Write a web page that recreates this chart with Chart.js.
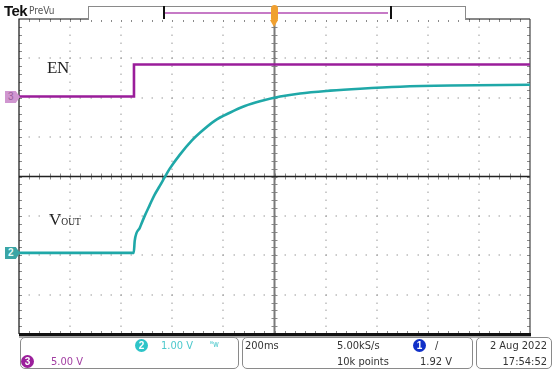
<!DOCTYPE html>
<html>
<head>
<meta charset="utf-8">
<script src="https://cdn.jsdelivr.net/npm/chart.js@4/dist/chart.umd.min.js"></script>
<style>
  html,body{margin:0;padding:0;background:#fff;}
  #wrap{position:relative;width:554px;height:375px;overflow:hidden;background:#fff;font-family:"Liberation Sans Narrow","DejaVu Sans Condensed","Liberation Sans",sans-serif;}
  #c{position:absolute;left:0;top:0;}
  .abs{position:absolute;white-space:nowrap;}
  .box{position:absolute;border:1px solid #8a8a8a;border-radius:5px;background:#fff;}
  .t{position:absolute;font-size:11px;line-height:13px;color:#333;font-stretch:condensed;white-space:nowrap;}
  .circ{position:absolute;width:13px;height:13px;border-radius:50%;color:#fff;font-size:10px;line-height:13px;text-align:center;font-family:"Liberation Sans",sans-serif;font-weight:bold;}
  .mk{position:absolute;width:15px;height:12px;font-size:10px;line-height:12px;text-indent:3px;font-family:"Liberation Sans",sans-serif;clip-path:polygon(0 0,72% 0,100% 50%,72% 100%,0 100%);}
</style>
</head>
<body>
<div id="wrap">
  <canvas id="c" width="554" height="375"></canvas>

  <!-- top bar -->
  <div class="abs" style="left:4px;top:2px;font-family:'Liberation Sans',sans-serif;font-weight:bold;font-size:15px;line-height:17px;color:#111;letter-spacing:-0.6px;">Tek</div>
  <div class="abs" style="left:29px;top:5px;font-size:10px;line-height:12px;color:#555;font-stretch:condensed;">PreVu</div>
  <div class="abs" style="left:88px;top:6px;width:376px;height:13px;border:1px solid #8a8a8a;border-bottom:none;background:#fff;"></div>
  <div class="abs" style="left:163px;top:6px;width:225px;height:13px;border-left:2px solid #111;border-right:2px solid #111;"></div>
  <div class="abs" style="left:165px;top:12px;width:223px;height:2px;background:#c67ac6;"></div>
  <div class="abs" style="left:271px;top:5px;width:7px;height:17px;border-radius:4px;background:#f0a030;"></div>
  <div class="abs" style="left:270px;top:20px;width:0;height:0;border-left:4.5px solid transparent;border-right:4.5px solid transparent;border-top:7px solid #f0a030;"></div>

  <!-- channel markers -->
  <div class="mk" style="left:5px;top:91px;background:#d096d0;color:#9a609a;">3</div>
  <div class="mk" style="left:5px;top:247px;background:#3aa5a5;color:#e8ffff;font-weight:bold;">2</div>

  <!-- annotations -->
  <div class="abs" style="left:47px;top:58px;font-family:'Liberation Serif',serif;font-size:17px;line-height:20px;color:#222;letter-spacing:-0.5px;">EN</div>
  <div class="abs" style="left:49px;top:210px;font-family:'Liberation Serif',serif;font-size:17px;line-height:20px;color:#222;">V<span style="font-size:9.5px;">OUT</span></div>

  <!-- bottom status boxes -->
  <div class="box" style="left:20px;top:337px;width:217px;height:30px;"></div>
  <div class="box" style="left:242px;top:337px;width:229px;height:30px;"></div>
  <div class="box" style="left:476px;top:337px;width:74px;height:30px;"></div>

  <div class="circ" style="left:135px;top:339px;background:#2ec4c8;">2</div>
  <div class="t" style="left:161px;top:339px;color:#4cc8cc;">1.00 V</div>
  <div class="t" style="left:210px;top:338px;color:#4cc8cc;font-size:8px;">ᴮw</div>
  <div class="circ" style="left:21px;top:355px;background:#9b1f9b;">3</div>
  <div class="t" style="left:51px;top:355px;color:#a23ea2;">5.00 V</div>

  <div class="t" style="left:245px;top:339px;">200ms</div>
  <div class="t" style="left:337px;top:339px;">5.00kS/s</div>
  <div class="t" style="left:337px;top:355px;">10k points</div>
  <div class="circ" style="left:413px;top:339px;background:#1030c8;">1</div>
  <div class="t" style="left:435px;top:339px;">/</div>
  <div class="t" style="left:420px;top:355px;">1.92 V</div>

  <div class="t" style="left:480px;top:339px;width:67px;text-align:right;">2 Aug 2022</div>
  <div class="t" style="left:480px;top:355px;width:67px;text-align:right;">17:54:52</div>
</div>

<script>
// ---- data (time in ms, relative to trigger) ----
const enTimeMs   = [-1000, -550, -550, 1000];
const enVolts    = [0, 0, 4.07, 4.07];

const voutTimeMs = [-1000, -551, -547, -527, -508, -488, -469, -449, -429, -410, -371, -324, -292, -233, -175, -116, -57, 22, 100, 218, 335, 492, 688, 1000];
const voutVolts  = [0, 0, 0.31, 0.64, 0.94, 1.22, 1.48, 1.70, 1.93, 2.14, 2.49, 2.85, 3.05, 3.36, 3.56, 3.73, 3.85, 3.97, 4.05, 4.12, 4.17, 4.22, 4.25, 4.27];

// scope settings
const timePerDiv  = 200;   // ms/div
const ch2VoltsDiv = 1.0;   // V/div
const ch3VoltsDiv = 5.0;   // V/div
const ch2Pos      = -1.94; // div (ground marker position)
const ch3Pos      = 2.03;  // div

const hDivs = 10, vDivs = 8;

const scopeGrid = {
  id: 'scopeGrid',
  beforeDatasetsDraw(chart) {
    const ctx = chart.ctx, a = chart.chartArea;
    const L = a.left, R = a.right, T = a.top, B = a.bottom;
    const dw = (R - L) / hDivs, dh = (B - T) / vDivs;
    const cx = L + dw * hDivs / 2, cy = T + dh * vDivs / 2;
    ctx.save();
    ctx.fillStyle = '#9a9a9a';
    for (let i = 1; i < hDivs; i++) {
      if (i === hDivs / 2) continue;
      const x = L + i * dw;
      for (let j = 1; j < vDivs * 5; j++) ctx.fillRect(Math.round(x) - 0.5, Math.round(T + j * dh / 5) - 0.5, 1, 1.5);
    }
    for (let j = 1; j < vDivs; j++) {
      if (j === vDivs / 2) continue;
      const y = T + j * dh;
      for (let i = 1; i < hDivs * 5; i++) ctx.fillRect(Math.round(L + i * dw / 5) - 0.5, Math.round(y) - 0.5, 1.5, 1);
    }
    ctx.strokeStyle = '#8a8a8a'; ctx.lineWidth = 1;
    ctx.beginPath();
    for (let i = 1; i < hDivs * 5; i++) { const x = Math.round(L + i * dw / 5) + 0.5; ctx.moveTo(x, cy - 3); ctx.lineTo(x, cy + 3); }
    for (let j = 1; j < vDivs * 5; j++) { const y = Math.round(T + j * dh / 5) + 0.5; ctx.moveTo(cx - 3, y); ctx.lineTo(cx + 3, y); }
    for (let j = 1; j < vDivs * 5; j++) { const y = Math.round(T + j * dh / 5) + 0.5; ctx.moveTo(L, y); ctx.lineTo(L + 3, y); ctx.moveTo(R, y); ctx.lineTo(R - 3, y); }
    for (let i = 1; i < hDivs * 5; i++) { const x = Math.round(L + i * dw / 5) + 0.5; ctx.moveTo(x, T); ctx.lineTo(x, T + 3); ctx.moveTo(x, B); ctx.lineTo(x, B - 3); }
    ctx.stroke();
    ctx.strokeStyle = '#7a7a7a'; ctx.lineWidth = 2;
    ctx.beginPath(); ctx.moveTo(cx, T); ctx.lineTo(cx, B); ctx.stroke();
    ctx.strokeStyle = '#222'; ctx.lineWidth = 1.5;
    ctx.beginPath(); ctx.moveTo(L, cy); ctx.lineTo(R, cy); ctx.stroke();
    ctx.strokeStyle = '#111'; ctx.lineWidth = 1.2;
    ctx.beginPath(); ctx.moveTo(L, B); ctx.lineTo(L, T); ctx.lineTo(R, T); ctx.stroke();
    ctx.strokeStyle = '#444';
    ctx.beginPath(); ctx.moveTo(R, T); ctx.lineTo(R, B); ctx.stroke();
    ctx.fillStyle = '#a8a8a8'; ctx.fillRect(L, B, R - L + 1, 4);
    ctx.fillStyle = '#111'; ctx.fillRect(L, B - 1, R - L + 1, 3);
    ctx.restore();
  }
};

const toXY = (xs, ys) => xs.map((x, i) => ({ x: x, y: ys[i] }));

new Chart(document.getElementById('c'), {
  type: 'line',
  data: {
    datasets: [
      { label: 'EN', data: toXY(enTimeMs, enVolts), yAxisID: 'y3', borderColor: '#9a1d9a', borderWidth: 2.6, pointRadius: 0, tension: 0 },
      { label: 'VOUT', data: toXY(voutTimeMs, voutVolts), yAxisID: 'y2', borderColor: '#1fa8a8', borderWidth: 2.6, pointRadius: 0, cubicInterpolationMode: 'monotone' }
    ]
  },
  options: {
    responsive: false, devicePixelRatio: 1, animation: false,
    layout: { padding: { left: 19, top: 19, right: 24, bottom: 41 } },
    plugins: { legend: { display: false }, tooltip: { enabled: false } },
    scales: {
      x: { type: 'linear', display: false, min: -timePerDiv * hDivs / 2, max: timePerDiv * hDivs / 2 },
      y2: { type: 'linear', display: false, min: (-vDivs / 2 - ch2Pos) * ch2VoltsDiv, max: (vDivs / 2 - ch2Pos) * ch2VoltsDiv },
      y3: { type: 'linear', display: false, min: (-vDivs / 2 - ch3Pos) * ch3VoltsDiv, max: (vDivs / 2 - ch3Pos) * ch3VoltsDiv }
    }
  },
  plugins: [scopeGrid]
});
</script>
</body>
</html>
